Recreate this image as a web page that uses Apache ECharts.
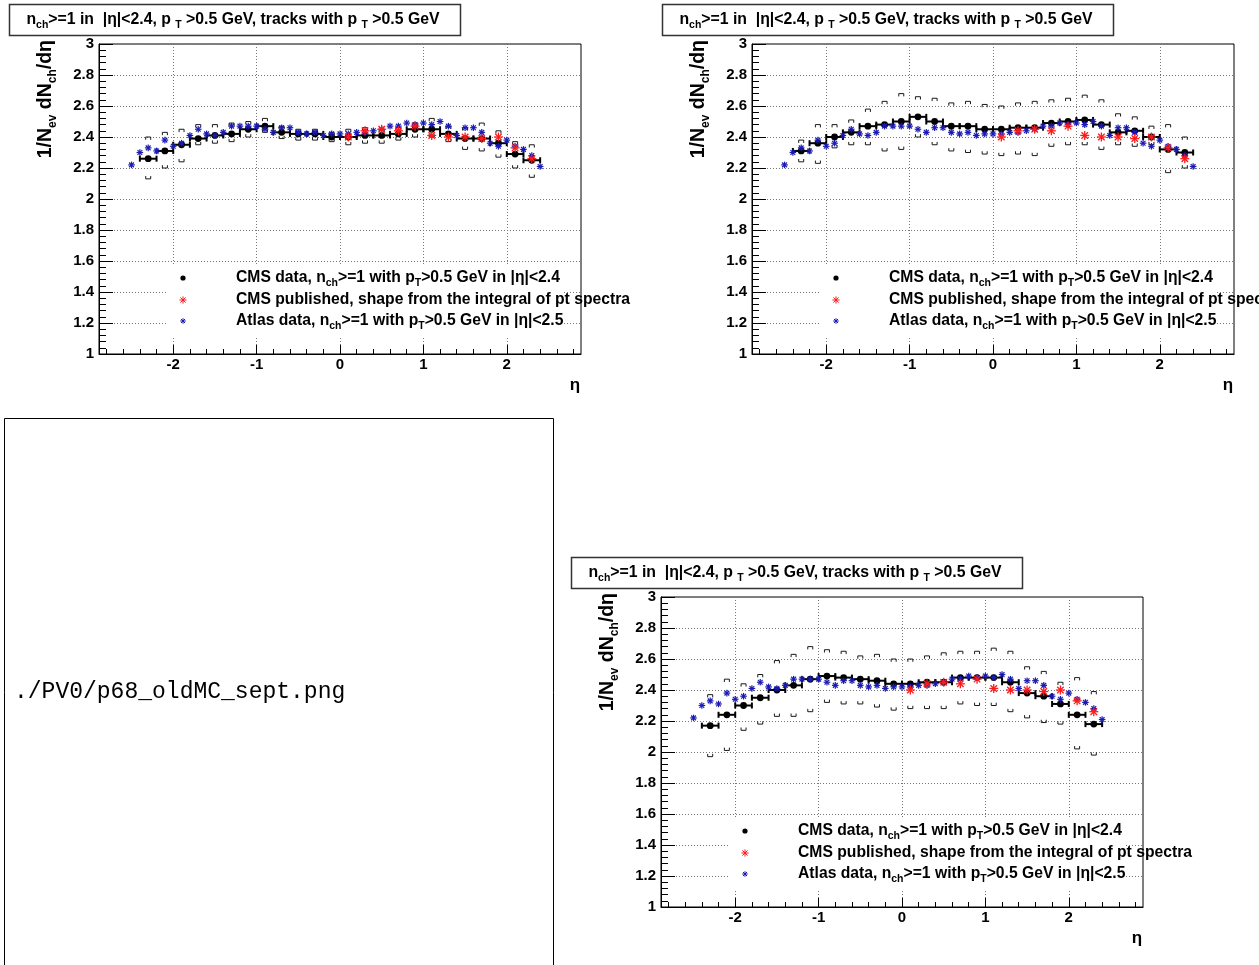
<!DOCTYPE html>
<html><head><meta charset="utf-8">
<script src="https://cdn.jsdelivr.net/npm/echarts@6/dist/echarts.min.js"></script>
<style>html,body{margin:0;padding:0;background:#fff}#c{width:1259px;height:965px}</style>
</head><body><div id="c"></div>
<script>
// ---------------- data ----------------
const etaCMS = [-2.3,-2.1,-1.9,-1.7,-1.5,-1.3,-1.1,-0.9,-0.7,-0.5,-0.3,-0.1,0.1,0.3,0.5,0.7,0.9,1.1,1.3,1.5,1.7,1.9,2.1,2.3];
const binHalf = 0.1;
// panel A (top-left)
const cmsA = [2.26,2.31,2.35,2.39,2.41,2.42,2.45,2.47,2.43,2.42,2.42,2.40,2.40,2.41,2.41,2.42,2.45,2.45,2.42,2.39,2.39,2.36,2.29,2.25];
const upA  = [2.40,2.43,2.45,2.48,2.48,2.49,2.50,2.52,2.47,2.45,2.45,2.43,2.45,2.46,2.45,2.46,2.49,2.52,2.47,2.46,2.49,2.44,2.37,2.35];
const loA  = [2.13,2.20,2.24,2.35,2.36,2.37,2.40,2.43,2.39,2.38,2.38,2.37,2.35,2.36,2.36,2.38,2.40,2.40,2.37,2.32,2.31,2.27,2.20,2.14];
// panel B (top-right)
const cmsB = [2.31,2.36,2.40,2.43,2.47,2.48,2.50,2.53,2.50,2.47,2.47,2.45,2.45,2.46,2.46,2.49,2.50,2.51,2.48,2.43,2.44,2.40,2.32,2.30];
const upB  = [2.38,2.48,2.48,2.51,2.58,2.63,2.68,2.66,2.65,2.62,2.63,2.61,2.60,2.62,2.63,2.64,2.65,2.67,2.64,2.55,2.53,2.47,2.48,2.40];
const loB  = [2.24,2.23,2.33,2.35,2.35,2.31,2.32,2.40,2.35,2.31,2.30,2.29,2.28,2.29,2.28,2.34,2.35,2.35,2.32,2.35,2.34,2.35,2.17,2.20];
// panel C (bottom-right)
const cmsC = [2.17,2.24,2.30,2.35,2.40,2.43,2.47,2.49,2.48,2.47,2.46,2.44,2.44,2.45,2.45,2.48,2.48,2.48,2.45,2.38,2.36,2.31,2.24,2.18];
const upC  = [2.37,2.47,2.44,2.50,2.59,2.63,2.68,2.66,2.65,2.62,2.63,2.60,2.60,2.62,2.64,2.65,2.65,2.67,2.65,2.55,2.52,2.45,2.48,2.39];
const loC  = [1.97,2.01,2.14,2.18,2.23,2.23,2.26,2.32,2.31,2.31,2.29,2.27,2.28,2.28,2.28,2.31,2.30,2.30,2.26,2.22,2.19,2.18,2.02,1.98];
// ATLAS
const etaAtlas = [-2.5,-2.4,-2.3,-2.2,-2.1,-2.0,-1.9,-1.8,-1.7,-1.6,-1.5,-1.4,-1.3,-1.2,-1.1,-1.0,-0.9,-0.8,-0.7,-0.6,-0.5,-0.4,-0.3,-0.2,-0.1,0.0,0.1,0.2,0.3,0.4,0.5,0.6,0.7,0.8,0.9,1.0,1.1,1.2,1.3,1.4,1.5,1.6,1.7,1.8,1.9,2.0,2.1,2.2,2.3,2.4];
const atlas = [2.22,2.30,2.33,2.31,2.38,2.34,2.36,2.41,2.45,2.42,2.41,2.43,2.47,2.47,2.47,2.47,2.45,2.43,2.46,2.46,2.43,2.42,2.43,2.41,2.42,2.42,2.42,2.43,2.43,2.44,2.45,2.47,2.47,2.49,2.48,2.49,2.48,2.50,2.47,2.41,2.46,2.46,2.43,2.36,2.34,2.38,2.34,2.32,2.28,2.21];
// CMS published
const etaPub = [0.1,0.3,0.5,0.7,0.9,1.1,1.3,1.5,1.7,1.9,2.1,2.3];
const pub = [2.40,2.44,2.45,2.44,2.47,2.41,2.40,2.40,2.39,2.40,2.33,2.26];
// axis ticks
const xMajor = [-2,-1,0,1,2];
const xMinor = [-2.8,-2.6,-2.4,-2.2,-1.8,-1.6,-1.4,-1.2,-0.8,-0.6,-0.4,-0.2,0.2,0.4,0.6,0.8,1.2,1.4,1.6,1.8,2.2,2.4,2.6,2.8];
const xRange = [-2.89, 2.89];
const yRange = [1, 3];
const yStep = 0.2;
// texts
const legendTexts = [
  ['CMS data, n', 'ch', '>=1 with p', 'T', '>0.5 GeV in |η|<2.4'],
  ['CMS published, shape from the integral of pt spectra'],
  ['Atlas data, n', 'ch', '>=1 with p', 'T', '>0.5 GeV in |η|<2.5']
];
const titleParts = ['n', 'ch', '>=1 in  |η|<2.4, p ', 'T', ' >0.5 GeV, tracks with p ', 'T', ' >0.5 GeV'];
const yTitleParts = ['1/N', 'ev', ' dN', 'ch', '/dη'];
const placeholder = './PV0/p68_oldMC_sept.png';

// ---------------- layout ----------------
const FF = "'Liberation Sans', Arial, Helvetica, sans-serif";
const panels = [
  {left: 99, top: 44, cms: cmsA, up: upA, lo: loA},
  {left: 752, top: 44, cms: cmsB, up: upB, lo: loB},
  {left: 661, top: 597, cms: cmsC, up: upC, lo: loC}
];
const GW = 482, GH = 310;
const BLUE = '#1a1ab4', RED = '#ff1a1a';

function richStr(parts){ // alternating normal / subscript
  return parts.map((p,i)=> (i%2===0 ? '{n|'+p+'}' : '{s|'+p+'}')).join('');
}
function rich(size, subSize, lh){
  return {
    n: {fontSize:size, fontWeight:'bold', fontFamily:FF, fill:'#000', color:'#000', lineHeight:lh},
    s: {fontSize:subSize, fontWeight:'bold', fontFamily:FF, fill:'#000', color:'#000', lineHeight:subSize, verticalAlign:'bottom'}
  };
}
function starEls(x, y, s, color, lw){
  const d = s*0.72;
  const st = {stroke:color, lineWidth:lw};
  return [
    {type:'line', shape:{x1:x-s,y1:y,x2:x+s,y2:y}, style:st},
    {type:'line', shape:{x1:x,y1:y-s,x2:x,y2:y+s}, style:st},
    {type:'line', shape:{x1:x-d,y1:y-d,x2:x+d,y2:y+d}, style:st},
    {type:'line', shape:{x1:x-d,y1:y+d,x2:x+d,y2:y-d}, style:st}
  ];
}
function rStar(size, color, lw){
  return function(params, api){
    const p = api.coord([api.value(0), api.value(1)]);
    return {type:'group', children: starEls(p[0], p[1], size, color, lw)};
  };
}
function rCMS(params, api){
  const x = api.value(0), y = api.value(1);
  const c = api.coord([x,y]), l = api.coord([x-binHalf,y]), r = api.coord([x+binHalf,y]);
  const st = {stroke:'#000', lineWidth:2};
  return {type:'group', children:[
    {type:'line', shape:{x1:l[0],y1:c[1],x2:r[0],y2:c[1]}, style:st},
    {type:'line', shape:{x1:l[0],y1:c[1]-3,x2:l[0],y2:c[1]+3}, style:st},
    {type:'line', shape:{x1:r[0],y1:c[1]-3,x2:r[0],y2:c[1]+3}, style:st},
    {type:'circle', shape:{cx:c[0],cy:c[1],r:3.4}, style:{fill:'#000'}}
  ]};
}
function rSys(params, api){
  const x = api.value(0);
  const u = api.coord([x, api.value(1)]), d = api.coord([x, api.value(2)]);
  const w = 2.5, h = 2.8;
  const st = {stroke:'#1a1a1a', lineWidth:1, fill:null};
  return {type:'group', children:[
    {type:'polyline', shape:{points:[[u[0]-w,u[1]+h],[u[0]-w,u[1]],[u[0]+w,u[1]],[u[0]+w,u[1]+h]]}, style:st},
    {type:'polyline', shape:{points:[[d[0]-w,d[1]-h],[d[0]-w,d[1]],[d[0]+w,d[1]],[d[0]+w,d[1]-h]]}, style:st}
  ]};
}

const grids = [], xAxes = [], yAxes = [], series = [], gfx = [];
const labelStyle = {color:'#000', fontFamily:FF, fontWeight:'bold', fontSize:15};
const splitStyle = {color:'#777', type:[1,2], width:1};

panels.forEach((P, i) => {
  grids.push({left:P.left, top:P.top, width:GW, height:GH, show:true, borderColor:'#000', borderWidth:1, backgroundColor:'transparent'});
  xAxes.push({gridIndex:i, type:'value', min:xRange[0], max:xRange[1], position:'bottom',
    axisLine:{show:true, onZero:false, lineStyle:{color:'#000', width:1}},
    axisTick:{show:true, inside:true, length:9, customValues:xMajor, lineStyle:{color:'#000'}},
    axisLabel:Object.assign({show:true, margin:3, customValues:xMajor}, labelStyle),
    splitLine:{show:true, customValues:xMajor, lineStyle:splitStyle}, minorTick:{show:false}});
  xAxes.push({gridIndex:i, type:'value', min:xRange[0], max:xRange[1], position:'bottom',
    axisLine:{show:false, onZero:false},
    axisTick:{show:true, inside:true, length:5, customValues:xMinor, lineStyle:{color:'#000'}},
    axisLabel:{show:false}, splitLine:{show:false}, minorTick:{show:false}});
  yAxes.push({gridIndex:i, type:'value', min:yRange[0], max:yRange[1], interval:yStep,
    axisLine:{show:true, onZero:false, lineStyle:{color:'#000', width:1}},
    axisTick:{show:true, inside:true, length:14, lineStyle:{color:'#000'}},
    minorTick:{show:true, splitNumber:5, length:7, lineStyle:{color:'#000'}},
    axisLabel:Object.assign({margin:5, showMinLabel:true, showMaxLabel:true}, labelStyle),
    splitLine:{show:true, lineStyle:splitStyle}});
  const xi = 2*i, yi = i;
  series.push({type:'custom', coordinateSystem:'cartesian2d', xAxisIndex:xi, yAxisIndex:yi, z:3,
    data: etaCMS.map((e,k)=>[e, P.up[k], P.lo[k]]), renderItem:rSys});
  series.push({type:'custom', coordinateSystem:'cartesian2d', xAxisIndex:xi, yAxisIndex:yi, z:4,
    data: etaCMS.map((e,k)=>[e, P.cms[k]]), renderItem:rCMS});
  series.push({type:'custom', coordinateSystem:'cartesian2d', xAxisIndex:xi, yAxisIndex:yi, z:5,
    data: etaAtlas.map((e,k)=>[e, atlas[k]]), renderItem:rStar(3.3, BLUE, 1.2)});
  series.push({type:'custom', coordinateSystem:'cartesian2d', xAxisIndex:xi, yAxisIndex:yi, z:6,
    data: etaPub.map((e,k)=>[e, pub[k]]), renderItem:rStar(4.5, RED, 1.3)});

  // title box
  const tx = P.left - 90, ty = P.top - 40;
  gfx.push({type:'rect', z:20, shape:{x:tx+0.5, y:ty+0.5, width:451, height:31}, style:{fill:'#fff', stroke:'#333', lineWidth:1.5}});
  gfx.push({type:'text', z:21, x:tx+224, y:ty+16, style:{text:richStr(titleParts), rich:rich(15.8,10.5,22), align:'center', verticalAlign:'middle'}});
  // y title
  gfx.push({type:'text', z:21, x:P.left-53, y:P.top-4, rotation:Math.PI/2,
    style:{text:richStr(yTitleParts), rich:rich(19.5,12,26), align:'right', verticalAlign:'middle'}});
  // x title
  gfx.push({type:'text', z:21, x:P.left+GW-6, y:P.top+GH+31,
    style:{text:'η', fontSize:17, fontWeight:'bold', fontFamily:FF, fill:'#000', align:'center', verticalAlign:'middle'}});
  // legend
  gfx.push({type:'rect', z:30, shape:{x:P.left+69, y:P.top+222, width:395, height:70}, style:{fill:'#fff'}});
  const rows = [P.top+234, P.top+256, P.top+277];
  const mx = P.left+84;
  gfx.push({type:'circle', z:31, shape:{cx:mx, cy:rows[0], r:2.6}, style:{fill:'#000'}});
  gfx.push({type:'group', z:31, children: starEls(mx, rows[1], 3.6, RED, 1).map(e=>Object.assign(e,{z:31}))});
  gfx.push({type:'group', z:31, children: starEls(mx, rows[2], 2.8, BLUE, 1).map(e=>Object.assign(e,{z:31}))});
  legendTexts.forEach((lt, k) => {
    gfx.push({type:'text', z:32, x:P.left+137, y:rows[k], style:{text:richStr(lt), rich:rich(15.7,10.5,22), align:'left', verticalAlign:'middle'}});
  });
});

// placeholder for missing image
gfx.push({type:'rect', z:20, shape:{x:4.5, y:418.5, width:549, height:560}, style:{fill:'#fff', stroke:'#000', lineWidth:1}});
gfx.push({type:'text', z:21, x:14, y:692, style:{text:placeholder, fontSize:23, fontFamily:"'Liberation Mono', 'DejaVu Sans Mono', monospace", fill:'#000', align:'left', verticalAlign:'middle'}});

const chart = echarts.init(document.getElementById('c'), null, {renderer:'canvas'});
chart.setOption({animation:false, backgroundColor:'#fff', grid:grids, xAxis:xAxes, yAxis:yAxes, series:series, graphic:{elements:gfx}});
</script></body></html>
